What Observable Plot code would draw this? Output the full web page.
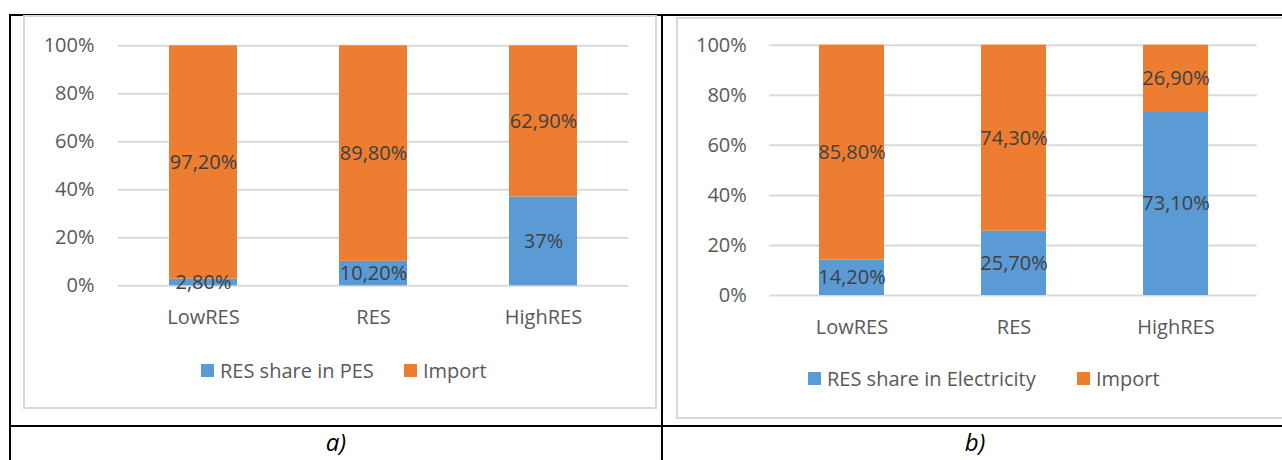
<!DOCTYPE html>
<html><head><meta charset="utf-8">
<script src="https://cdn.jsdelivr.net/npm/d3@7"></script>
<script src="https://cdn.jsdelivr.net/npm/@observablehq/plot@0.6"></script>
<style>
html,body{margin:0;padding:0;background:#fff;}
body{width:1282px;height:460px;position:relative;overflow:hidden;font-family:"Open Sans",sans-serif;}
.frame{position:absolute;border:2px solid #d9d9d9;box-sizing:border-box;}
.line{position:absolute;background:#000;}
.item{position:absolute;display:flex;align-items:center;height:28px;font-size:20px;color:#595959;white-space:nowrap;}
.sw{display:inline-block;width:13px;height:13px;margin-right:6px;}
.cap{position:absolute;font-style:italic;font-size:24px;color:#000;text-align:center;height:30px;line-height:30px;}
.chart{position:absolute;top:0;z-index:2;}
</style></head><body>
<script>
const categories = ["LowRES", "RES", "HighRES"];
const seriesA = ["RES share in PES", "Import"];
const seriesB = ["RES share in Electricity", "Import"];
const resA = [2.8, 10.2, 37];
const importA = [97.2, 89.8, 62.9];
const labelsResA = ["2,80%", "10,20%", "37%"];
const labelsImportA = ["97,20%", "89,80%", "62,90%"];
const resB = [14.2, 25.7, 73.1];
const importB = [85.8, 74.3, 26.9];
const labelsResB = ["14,20%", "25,70%", "73,10%"];
const labelsImportB = ["85,80%", "74,30%", "26,90%"];
const yTicks = [0, 20, 40, 60, 80, 100];
const captions = ["a)", "b)"];
const colors = ["#5b9bd5", "#ed7d31"];

function el(tag, cls, style, text) {
  const e = document.createElement(tag);
  if (cls) e.className = cls;
  Object.assign(e.style, style || {});
  if (text != null) e.textContent = text;
  document.body.appendChild(e);
  return e;
}

// table lines
el("div", "line", {left: "9px", top: "14px", width: "1300px", height: "2px"});
el("div", "line", {left: "9px", top: "14px", width: "2px", height: "460px"});
el("div", "line", {left: "661px", top: "14px", width: "2px", height: "460px"});
el("div", "line", {left: "9px", top: "425px", width: "1300px", height: "2px"});
// chart frames
el("div", "frame", {left: "23px", top: "15px", width: "634px", height: "394px"});
el("div", "frame", {left: "676px", top: "17px", width: "700px", height: "402px"});
// captions
el("div", "cap", {left: "11px", top: "427px", width: "650px"}, captions[0]);
el("div", "cap", {left: "663px", top: "427px", width: "624px"}, captions[1]);

function chart(o) {
  const rows = [];
  [o.res, o.imp].forEach((vals, s) => categories.forEach((c, i) =>
    rows.push({category: c, series: o.series[s], value: vals[i], label: [o.labRes, o.labImp][s][i]})));
  const stack = {x: "category", y: "value", z: "series", offset: "normalize", order: null};
  const ticks = yTicks.map(d => d / 100);
  return Plot.plot({
    width: o.width, height: o.height,
    marginLeft: o.marginLeft, marginRight: o.marginRight, marginTop: o.marginTop, marginBottom: o.marginBottom,
    style: {background: "none", fontFamily: "'Open Sans', sans-serif", fontSize: "20px", color: "#595959", overflow: "visible"},
    x: {domain: categories, paddingInner: 0.6, paddingOuter: 0.3, axis: null},
    y: {domain: [0, 1], axis: null},
    color: {domain: o.series, range: colors},
    marks: [
      Plot.gridY({ticks, stroke: "#d9d9d9", strokeWidth: 2, strokeOpacity: 1}),
      Plot.barY(rows, Plot.stackY({...stack, fill: "series"})),
      Plot.text(rows, Plot.stackY({...stack, text: "label", fill: "#404040", fontSize: 20})),
      Plot.axisY({ticks, label: null, tickSize: 0, tickPadding: o.yPad, tickFormat: d => Math.round(d * 100) + "%"}),
      Plot.axisX({label: null, tickSize: 0, tickPadding: 24})
    ]
  });
}

const a = chart({series: seriesA, res: resA, imp: importA, labRes: labelsResA, labImp: labelsImportA,
  width: 661, height: 340, marginLeft: 118, marginRight: 33, marginTop: 45.3, marginBottom: 54.7, yPad: 24});
a.classList.add("chart"); a.style.left = "0px"; a.style.position = "absolute";
document.body.appendChild(a);

const b = chart({series: seriesB, res: resB, imp: importB, labRes: labelsResB, labImp: labelsImportB,
  width: 619, height: 350, marginLeft: 106.3, marginRight: 25.3, marginTop: 44.7, marginBottom: 55, yPad: 23});
b.classList.add("chart"); b.style.left = "663px"; b.style.position = "absolute";
document.body.appendChild(b);

// legends
function legend(series, lefts, cy) {
  series.forEach((s, i) => {
    const it = el("div", "item", {left: lefts[i] + "px", top: (cy - 14) + "px"});
    const sw = document.createElement("span"); sw.className = "sw"; sw.style.background = colors[i];
    const t = document.createElement("span"); t.textContent = s;
    it.appendChild(sw); it.appendChild(t);
  });
}
legend(seriesA, [201, 404], 370);
legend(seriesB, [808, 1077], 378);
</script>
</body></html>
